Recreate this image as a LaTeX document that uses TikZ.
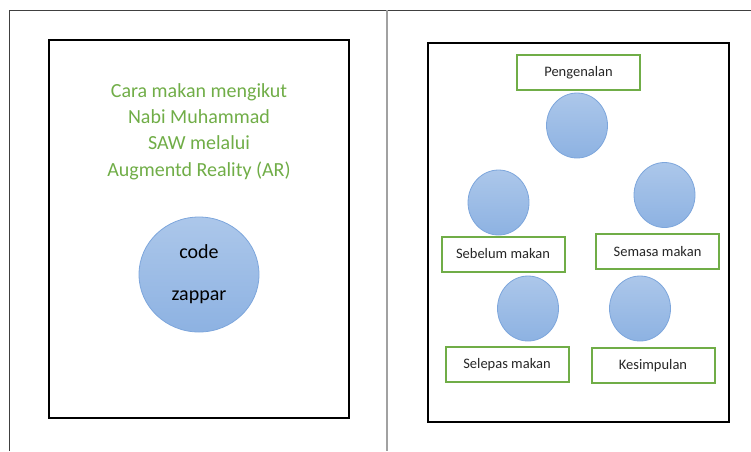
\documentclass[tikz,border=0pt]{standalone}
\usepackage{fontspec}
\setmainfont{Carlito}
\usepackage{xcolor}
\usetikzlibrary{shapes.geometric}
\definecolor{ttlgreen}{RGB}{112,173,71}
\definecolor{balltop}{RGB}{172,199,234}
\definecolor{ballbot}{RGB}{141,178,226}
\definecolor{balledge}{RGB}{125,166,220}

\begin{document}
\begin{tikzpicture}[x=1pt,y=-1pt,
    ball/.style={ellipse,draw=balledge,line width=0.8pt,top color=balltop,bottom color=ballbot,inner sep=0pt},
    lbl/.style={rectangle,draw=ttlgreen,line width=2pt,fill=white,minimum width=123pt,minimum height=35pt,font=\fontsize{14.5}{17}\selectfont,text=black!85}]
    \useasboundingbox (0,0) rectangle (751,451);
    \draw[black!75,line width=1pt] (9,451) -- (9,10) -- (751,10);
    \draw[black!37,line width=2.5pt] (387,10) -- (387,451);
    \draw[black,line width=1.5pt] (49,40) rectangle (349,418);
    \draw[black,line width=1.5pt] (428,43) rectangle (729,422);
    % left page
    \node[align=center,text=ttlgreen,font=\fontsize{20}{26.3}\selectfont] (title) at (199,131.5)
        {Cara makan mengikut\\Nabi Muhammad\\SAW melalui\\Augmentd Reality (AR)};
    \node[ball,minimum width=120pt,minimum height=115pt,align=center,font=\fontsize{20}{42}\selectfont] (zap) at (199,274.5)
        {code\\zappar};
    % right page
    \node[lbl] (intro) at (578.5,72.5) {Pengenalan};
    \node[ball,minimum width=61pt,minimum height=65pt] (b1) at (577,125.5) {};
    \node[ball,minimum width=61pt,minimum height=65pt] (b2) at (498.5,202.5) {};
    \node[ball,minimum width=61pt,minimum height=65pt] (b3) at (664.5,195) {};
    \node[lbl] (before) at (503,254) {Sebelum makan};
    \node[lbl] (during) at (657.5,251.5) {Semasa makan};
    \node[ball,minimum width=61pt,minimum height=65pt] (b4) at (528,308.5) {};
    \node[ball,minimum width=61pt,minimum height=65pt] (b5) at (640,308.5) {};
    \node[lbl] (after) at (507,364.5) {Selepas makan};
    \node[lbl] (concl) at (653,365.5) {Kesimpulan};
\end{tikzpicture}
\end{document}
